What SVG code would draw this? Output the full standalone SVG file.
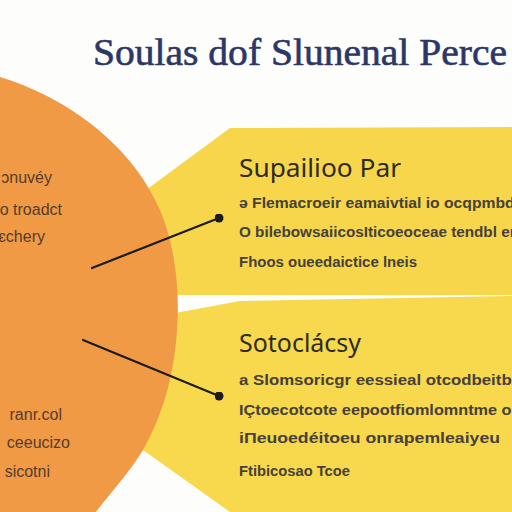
<svg xmlns="http://www.w3.org/2000/svg" width="512" height="512" viewBox="0 0 512 512">
  <defs>
    <style>
      .title { font-family: "Liberation Serif", "DejaVu Serif", serif; font-size: 38px; fill: #2C3767; stroke: #2C3767; stroke-width: 0.6px; }
      .head { font-family: "Noto Sans", "DejaVu Sans", sans-serif; font-size: 25px; fill: #2E2B26; }
      .body { font-family: "Liberation Sans", "DejaVu Sans", sans-serif; font-size: 14px; font-weight: bold; fill: #45413A; }
      .side { font-family: "Liberation Sans", "DejaVu Sans", sans-serif; font-size: 16px; fill: #553C2C; }
      .conn { stroke: #1B1B20; stroke-width: 2.2; stroke-linecap: round; fill: none; }
    </style>
    <marker id="dot" viewBox="0 0 10 10" refX="5" refY="5" markerWidth="9" markerHeight="9" markerUnits="userSpaceOnUse">
      <circle cx="5" cy="5" r="5" fill="#1B1B20"/>
    </marker>
  </defs>
  <rect width="512" height="512" fill="#FDFDFC"/>

  <g id="panel-top">
    <polygon points="230,128 512,127 512,295 110,295 110,216 150,187" fill="#F8D64C"/>
    <text class="head" x="239" y="177" textLength="162" lengthAdjust="spacingAndGlyphs">Supailioo Par</text>
    <text class="body" x="239" y="208" textLength="280" lengthAdjust="spacingAndGlyphs">ə Flemacroeir eamaivtial io ocqpmbdi</text>
    <text class="body" x="239" y="237" textLength="280" lengthAdjust="spacingAndGlyphs">O bilebowsaiicosIticoeoceae tendbl en</text>
    <text class="body" x="239" y="267" textLength="178" lengthAdjust="spacingAndGlyphs">Fhoos oueedaictice lneis</text>
  </g>

  <g id="panel-bottom">
    <polygon points="100,327 240,301 512,296 512,512 230,512 143,450 100,420" fill="#F8D84C"/>
    <text class="head" x="239" y="352" textLength="122" lengthAdjust="spacingAndGlyphs">Sotoclácsy</text>
    <text class="body" x="239" y="385" textLength="282" lengthAdjust="spacingAndGlyphs">a Slomsoricgr eessieal otcodbeitbe</text>
    <text class="body" x="239" y="415" textLength="277" lengthAdjust="spacingAndGlyphs">IÇtoecotcote eepootfiomlomntme ol</text>
    <text class="body" x="239" y="443" textLength="261" lengthAdjust="spacingAndGlyphs">iΠeuoedéitoeu onrapemleaiyeu</text>
    <text class="body" x="239" y="476" textLength="111" lengthAdjust="spacingAndGlyphs">Ftibicosao Tcoe</text>
  </g>

  <g id="circle">
    <path d="M-10,74 L0,77 C60,95 130,140 160,210 C175,245 180,290 177,330 C174,380 160,420 143,450 C128,475 104,500 90,520 L-10,520 Z" fill="#F09A46"/>
    <text class="side" x="52" y="183" text-anchor="end">ɔnuvéy</text>
    <text class="side" x="62" y="215" text-anchor="end">o troadct</text>
    <text class="side" x="45" y="242" text-anchor="end">ɛchery</text>
    <text class="side" x="62" y="420" text-anchor="end">ranr.col</text>
    <text class="side" x="70" y="448" text-anchor="end">ceeucizo</text>
    <text class="side" x="50" y="477" text-anchor="end">sicotni</text>
  </g>

  <g id="title">
    <text class="title" x="93" y="65" textLength="414" lengthAdjust="spacingAndGlyphs">Soulas dof Slunenal Perce</text>
  </g>

  <g id="connectors">
    <line class="conn" x1="92" y1="268" x2="219" y2="218" marker-end="url(#dot)"/>
    <line class="conn" x1="83" y1="340" x2="219" y2="396" marker-end="url(#dot)"/>
  </g>
</svg>
